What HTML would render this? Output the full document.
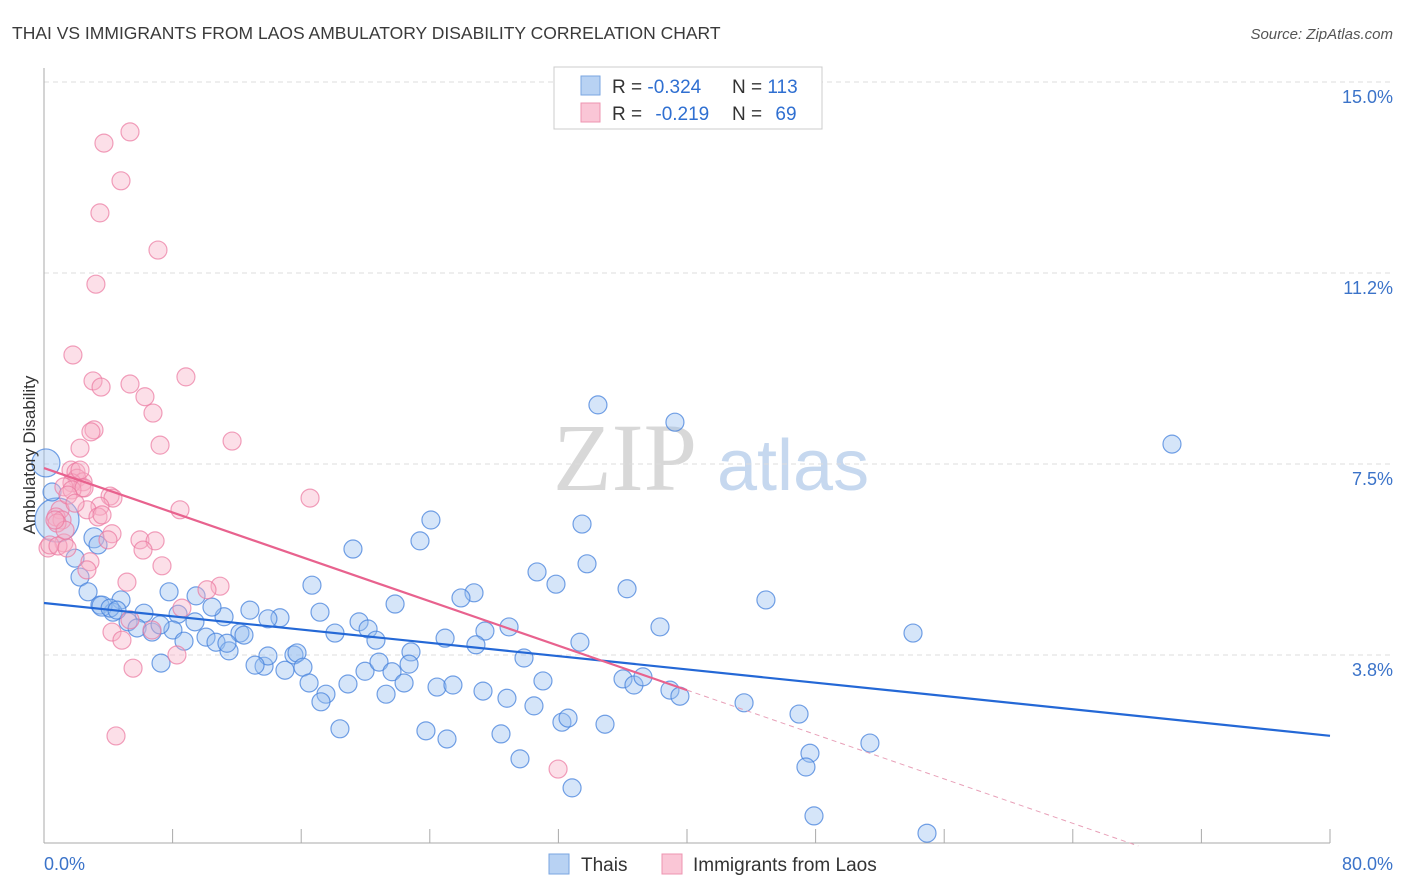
<!DOCTYPE html>
<html><head><meta charset="utf-8"><style>
body{margin:0;background:#fff;width:1406px;height:892px;overflow:hidden;font-family:"Liberation Sans",sans-serif}
svg{position:absolute;left:0;top:0}
</style></head><body>
<svg id="chart" width="1406" height="892">
<text x="12" y="39" font-size="17.5" fill="#3a3a3a">THAI VS IMMIGRANTS FROM LAOS AMBULATORY DISABILITY CORRELATION CHART</text>
<text x="1393" y="39" font-size="15" fill="#555" font-style="italic" text-anchor="end">Source: ZipAtlas.com</text>
<g>
<text x="553" y="490" font-size="96" font-family="Liberation Serif,serif" fill="#d8d8d8">ZIP</text>
<text x="717" y="490" font-size="72" fill="#c6d8ef">atlas</text>
</g>
<g id="grid"></g><g id="axes"></g><g id="pts"></g><g id="lines"></g>
<text transform="translate(35,455) rotate(-90)" font-size="17" fill="#333" text-anchor="middle">Ambulatory Disability</text>
<g>
<rect x="554" y="67" width="268" height="62" fill="#fff" stroke="#ccc"/>
<rect x="581" y="76" width="19" height="19" fill="#b8d2f3" stroke="#7aa6e0"/>
<rect x="581" y="103" width="19" height="19" fill="#fac6d6" stroke="#ee94b0"/>
<text x="612" y="93" font-size="19" fill="#333">R = <tspan fill="#2f6fd1">-0.324</tspan><tspan x="732">N = </tspan><tspan fill="#2f6fd1">113</tspan></text>
<text x="612" y="120" font-size="19" fill="#333">R = <tspan fill="#2f6fd1" dx="8">-0.219</tspan><tspan x="732">N = </tspan><tspan fill="#2f6fd1" dx="8">69</tspan></text>
</g>
<g>
<rect x="549" y="854" width="20" height="20" fill="#b8d2f3" stroke="#7aa6e0"/>
<text x="581" y="871" font-size="19" fill="#333">Thais</text>
<rect x="662" y="854" width="20" height="20" fill="#fac6d6" stroke="#ee94b0"/>
<text x="693" y="871" font-size="19" fill="#333">Immigrants from Laos</text>
</g>
</svg>
<script>
const yTicks=[15.0,11.25,7.5,3.75];
const yTickLabels=["15.0%","11.2%","7.5%","3.8%"];
const xTickCount=10;
const xLabels=["0.0%","80.0%"];
const blueX=[34.46,39.25,70.17,24.07,33.47,23.39,19.22,30.67,33.78,16.67,31.85,36.27,26.75,25.94,21.84,17.17,44.91,38.32,54.06,27.43,28.93,24.95,33.34,26.87,19.6,20.16,20.65,18.1,14.68,13.93,12.81,11.2,10.45,9.46,8.34,7.78,6.22,4.79,3.48,4.29,5.23,5.79,6.72,8.02,8.71,10.08,10.7,11.51,12.19,12.44,13.69,13.93,14.99,15.55,15.74,16.11,16.49,17.54,17.23,18.91,19.97,20.84,21.65,22.4,21.28,22.83,22.71,24.45,25.44,27.31,28.8,29.86,31.04,30.48,32.22,32.6,34.9,36.02,36.7,37.26,38.94,39.56,43.55,46.97,47.65,47.4,51.38,23.76,25.07,28.43,18.41,29.61,32.85,47.9,54.93,3.11,3.36,2.24,1.93,2.74,3.61,0.81,0.12,0.5,7.28,9.39,11.38,13.13,7.22,4.11,4.54];
const blueY=[8.66,8.32,7.89,6.4,6.32,5.99,5.83,5.38,5.54,5.12,5.14,5.05,4.97,4.87,4.75,4.59,4.83,4.3,4.18,4.22,4.3,4.08,4.0,3.95,4.4,4.26,4.04,4.18,4.48,4.46,4.63,4.5,4.69,4.91,4.55,4.99,4.57,4.83,4.73,4.59,4.4,4.28,4.2,4.24,4.02,4.1,4.0,3.83,4.18,4.14,3.53,3.73,3.45,3.75,3.79,3.51,3.2,2.98,2.83,3.18,3.43,3.61,3.42,3.2,2.98,3.81,3.57,3.12,3.16,3.04,2.9,3.69,3.24,2.75,2.43,2.51,2.39,3.28,3.16,3.32,3.06,2.94,2.81,2.59,1.82,1.55,2.02,2.26,2.1,2.2,2.3,1.71,1.14,0.59,0.25,6.05,5.91,5.28,5.65,4.99,4.71,6.4,7.52,6.95,3.59,4.4,3.98,3.55,4.34,4.67,4.63];
const blueBig={100:10,101:22,102:14,95:10};
const pinkX=[5.35,3.73,4.79,3.48,7.09,3.23,1.8,3.05,5.35,3.55,6.28,8.83,6.78,3.11,2.92,7.22,11.7,2.24,1.68,1.99,2.05,2.43,2.36,1.74,1.24,4.11,4.29,16.55,8.46,3.48,1.0,0.75,1.12,0.81,2.67,3.36,3.61,4.23,5.97,6.91,3.98,1.24,0.25,0.37,0.87,1.43,6.16,7.34,2.86,2.67,5.16,10.95,10.14,8.58,5.35,4.23,4.85,6.72,8.27,5.54,4.48,31.98,1.74,1.31,0.68,2.24,2.49,1.49,1.93];
const pinkY=[14.02,13.8,13.06,12.43,11.7,11.03,9.64,9.13,9.07,9.01,8.82,9.21,8.5,8.17,8.13,7.87,7.95,7.81,7.38,7.34,7.22,7.15,7.03,7.13,7.05,6.87,6.83,6.83,6.6,6.67,6.6,6.46,6.4,6.34,6.6,6.46,6.5,6.13,6.01,5.99,6.01,5.95,5.85,5.91,5.89,5.85,5.81,5.5,5.58,5.42,5.18,5.1,5.03,4.67,4.44,4.2,4.04,4.24,3.75,3.49,2.16,1.51,6.99,6.2,6.4,7.38,7.03,6.89,6.73];
const blueFit=[4.77,-0.0326];
const pinkFit=[7.42,-0.109];
const pinkSolidEnd=40;

const X0=44,X1=1330,xMax=80,YT=82,pxPer=50.93;
const sx=v=>X0+v*(X1-X0)/xMax, sy=v=>YT+(15-v)*pxPer;
const NS="http://www.w3.org/2000/svg";
function mk(t,a,p){const e=document.createElementNS(NS,t);for(const k in a)e.setAttribute(k,a[k]);p.appendChild(e);return e;}
const grid=document.getElementById('grid'),axes=document.getElementById('axes'),pts=document.getElementById('pts'),lines=document.getElementById('lines');
yTicks.forEach((v,i)=>{
 const g=mk('line',{x1:X0,x2:1393,y1:sy(v),y2:sy(v),stroke:'#ddd','stroke-dasharray':'5,4'},grid);
 
 
 const t=mk('text',{x:1393,y:sy(v)+21,'font-size':18,fill:'#3b73c9','text-anchor':'end'},axes);
 t.textContent=yTickLabels[i];
 
 
});
const ya=mk('line',{x1:X0,x2:X0,y1:68,y2:843,stroke:'#aaa'},axes);


const xa=mk('line',{x1:X0,x2:X1,y1:843,y2:843,stroke:'#aaa'},axes);


for(let i=0;i<=xTickCount;i++){
 const tk=mk('line',{x1:sx(i*8),x2:sx(i*8),y1:829,y2:843,stroke:'#aaa'},axes);
 
 
}
const xl0=mk('text',{x:X0,y:870,'font-size':18,fill:'#3b73c9'},axes);xl0.textContent=xLabels[0];


const xl1=mk('text',{x:1393,y:870,'font-size':18,fill:'#3b73c9','text-anchor':'end'},axes);xl1.textContent=xLabels[1];


blueX.forEach((x,i)=>{
 const c=mk('circle',{cx:sx(x),cy:sy(blueY[i]),r:blueBig[i]||9,fill:'rgba(150,190,240,0.4)',stroke:'rgba(70,130,220,0.75)','stroke-width':1.2},pts);
 
 
});
pinkX.forEach((x,i)=>{
 const c=mk('circle',{cx:sx(x),cy:sy(pinkY[i]),r:9,fill:'rgba(248,175,198,0.4)',stroke:'rgba(235,120,160,0.7)','stroke-width':1.2},pts);
 
 
});
const bl=mk('line',{x1:sx(0),y1:sy(blueFit[0]),x2:sx(80),y2:sy(blueFit[0]+blueFit[1]*80),stroke:'#2468d6','stroke-width':2.2},lines);


const pl=mk('line',{x1:sx(0),y1:sy(pinkFit[0]),x2:sx(pinkSolidEnd),y2:sy(pinkFit[0]+pinkFit[1]*pinkSolidEnd),stroke:'#e8628e','stroke-width':2.2},lines);


const xEnd=-pinkFit[0]/pinkFit[1];
const pd=mk('line',{x1:sx(pinkSolidEnd),y1:sy(pinkFit[0]+pinkFit[1]*pinkSolidEnd),x2:sx(xEnd),y2:sy(0),stroke:'#e8a0b8','stroke-width':1,'stroke-dasharray':'5,4'},lines);


</script>
</body></html>
